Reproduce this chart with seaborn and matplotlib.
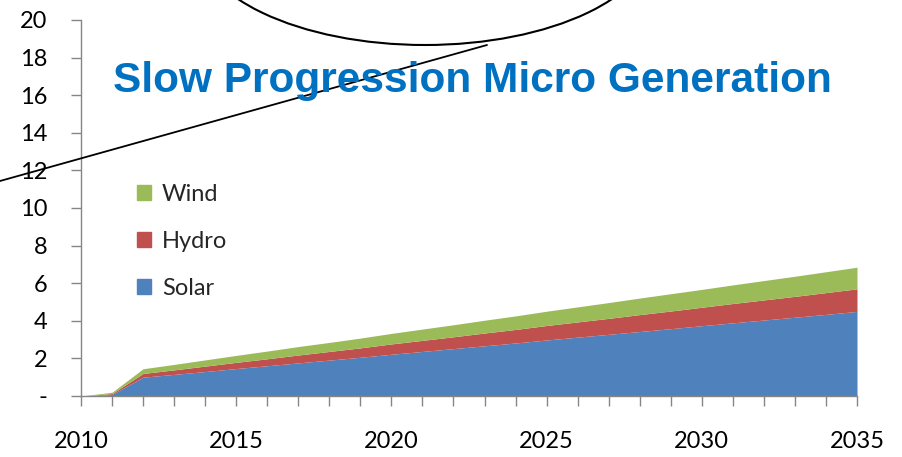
import matplotlib
import numpy as np
import pandas as pd

matplotlib.use("Agg")
import matplotlib.pyplot as plt
from matplotlib.patches import Ellipse, Patch
from matplotlib.ticker import FixedLocator, MultipleLocator
import seaborn as sns

years = list(range(2010, 2036))
solar = [0.0, 0.08, 1.00, 1.15, 1.30, 1.46, 1.61, 1.76, 1.91, 2.06, 2.22, 2.37, 2.52,
         2.67, 2.82, 2.98, 3.13, 3.28, 3.43, 3.58, 3.74, 3.89, 4.04, 4.19, 4.34, 4.50]
hydro = [0.0, 0.05, 0.20, 0.24, 0.29, 0.33, 0.37, 0.42, 0.46, 0.50, 0.55, 0.59, 0.63,
         0.68, 0.72, 0.77, 0.81, 0.85, 0.90, 0.94, 0.98, 1.03, 1.07, 1.11, 1.16, 1.20]
wind = [0.0, 0.07, 0.25, 0.29, 0.33, 0.37, 0.41, 0.45, 0.48, 0.52, 0.56, 0.60, 0.64,
        0.68, 0.72, 0.76, 0.80, 0.84, 0.88, 0.92, 0.95, 0.99, 1.03, 1.07, 1.11, 1.15]
series_names = ["Solar", "Hydro", "Wind"]
colors = ["#4F81BD", "#C0504D", "#9BBB59"]
y_ticks = [0, 2, 4, 6, 8, 10, 12, 14, 16, 18, 20]
y_labels = ["-", "2", "4", "6", "8", "10", "12", "14", "16", "18", "20"]
x_ticks = [2010, 2015, 2020, 2025, 2030, 2035]
title = "Slow Progression Micro Generation"

df = pd.DataFrame({"year": years, "Solar": solar, "Hydro": hydro, "Wind": wind})

sns.set_theme(style="white")
plt.rcParams["font.family"] = ["Lato", "DejaVu Sans"]

fig = plt.figure(figsize=(9.02, 4.57), dpi=100)
ax = fig.add_axes([81 / 902, 1 - 396 / 457, (857 - 81) / 902, (396 - 20) / 457])

ax.stackplot(df["year"], [df[n] for n in series_names], colors=colors, linewidth=0)

ax.set_xlim(2010, 2035)
ax.set_ylim(0, 20)
ax.xaxis.set_major_locator(FixedLocator(x_ticks))
ax.xaxis.set_minor_locator(MultipleLocator(1))
ax.set_yticks(y_ticks)
ax.set_yticklabels(y_labels)

for side in ["top", "right"]:
    ax.spines[side].set_visible(False)
for side in ["left", "bottom"]:
    ax.spines[side].set_color("#868686")
    ax.spines[side].set_linewidth(1)

ax.tick_params(axis="both", which="both", direction="out", color="#868686", width=1, length=7)
ax.tick_params(axis="y", which="major", pad=17, labelsize=17, labelcolor="black", left=True)
ax.tick_params(axis="x", which="major", pad=18, labelsize=17, labelcolor="black", bottom=True)
ax.tick_params(axis="x", which="minor", bottom=True)

handles = [Patch(color=colors[i], label=series_names[i]) for i in [2, 1, 0]]
ax.legend(handles=handles, loc="upper left", bbox_to_anchor=(0.045, 0.62), frameon=False,
          fontsize=17, handlelength=0.6, handleheight=0.6, handletextpad=0.45, labelspacing=1.1)

fig.text(472 / 902, 1 - 81 / 457, title, color="#0070C0", fontsize=30.5, fontweight="bold",
         family=["Liberation Sans", "DejaVu Sans"], ha="center", va="center")

# overlay drawn shapes (ellipse and line) in pixel space
over = fig.add_axes([0, 0, 1, 1], facecolor="none")
over.set_xlim(0, 902)
over.set_ylim(457, 0)
over.axis("off")
over.add_patch(Ellipse((425, -65), 460, 220, fill=False, edgecolor="black", linewidth=1.5))
over.plot([0, 487], [181, 45], color="black", linewidth=1.3)

fig.savefig("out.png", dpi=100)
